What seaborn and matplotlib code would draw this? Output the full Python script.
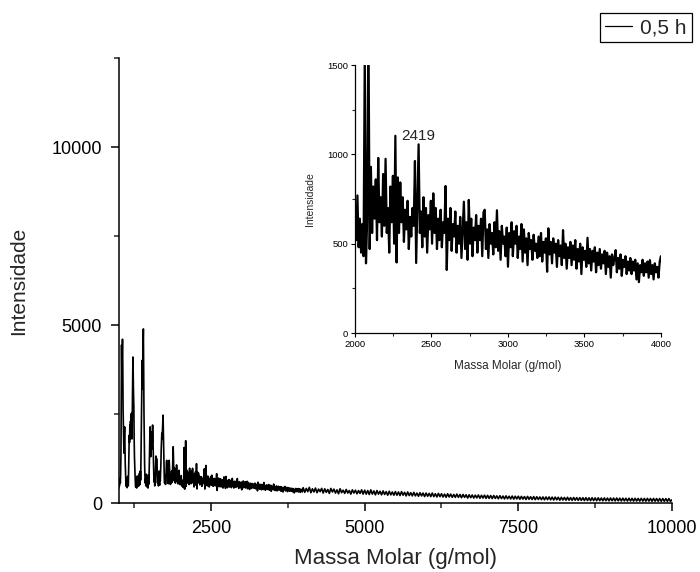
import numpy as np
import pandas as pd
import matplotlib
matplotlib.use("Agg")
import matplotlib.pyplot as plt
import seaborn as sns
from matplotlib.ticker import MultipleLocator

# ---------------- data ----------------
series_label = "0,5 h"
annot_text = "2419"
xlabel = "Massa Molar (g/mol)"
ylabel = "Intensidade"

# m/z sampling grids of the three spectrum segments
mass_a = np.arange(1000, 2000, 5)      # 1000-1995
mass_b = np.arange(2000, 4000, 8)      # 2000-3992
mass_c = np.arange(4000, 10001, 25)    # 4000-10000

int_a = [
    420, 610, 480, 650, 700, 560, 820, 1350, 2900, 4440, 3600, 4100, 4600, 3900, 2600, 2100, 1700, 1400, 1900, 2140,
    1600, 1100, 820, 600, 470, 690, 520, 430, 640, 750, 560, 480, 900, 1500, 1900, 1700, 2190, 1800, 2300, 2100,
    2400, 2520, 2200, 1800, 2600, 3400, 4100, 3500, 3030, 2700, 1800, 1300, 1000, 760, 560, 450, 680, 500, 420, 620,
    760, 540, 470, 700, 610, 480, 560, 830, 690, 520, 900, 640, 1100, 1800, 2600, 3300, 4010, 3200, 3700, 4500,
    4890, 3600, 2500, 1700, 1100, 760, 560, 690, 480, 620, 810, 560, 450, 700, 590, 420, 640, 780, 530, 900,
    1400, 1900, 2140, 1600, 1300, 1750, 1500, 1900, 2000, 1700, 2190, 1800, 1400, 1000, 760, 590, 680, 480, 610, 750,
    1100, 1320, 900, 1250, 1000, 700, 560, 820, 640, 480, 720, 900, 580, 500, 760, 620, 840, 1100, 1500, 1700,
    1960, 1800, 2000, 2200, 2470, 2000, 1500, 1100, 700, 560, 650, 780, 520, 600, 870, 1150, 1200, 900, 1100, 760,
    620, 540, 880, 700, 1200, 1000, 740, 600, 520, 800, 660, 560, 900, 720, 590, 1000, 1300, 1580, 1200, 900,
    760, 620, 980, 800, 560, 700, 860, 640, 1070, 820, 600, 750, 540, 880, 700, 600, 920, 760, 520, 690,
]

int_b = [
    690, 520, 770, 480, 640, 450, 610, 430, 1560, 390, 640, 1750, 470, 930, 560, 820, 640, 860, 520, 980, 620, 760, 540, 890, 600,
    975, 560, 700, 450, 820, 620, 880, 500, 1104, 395, 871, 560, 843, 620, 760, 510, 690, 580, 740, 470, 650, 540, 700, 600, 963,
    392, 720, 1056, 560, 680, 480, 760, 540, 700, 450, 660, 580, 740, 500, 782, 560, 700, 470, 640, 520, 690, 480, 620, 560, 823,
    353, 640, 520, 700, 460, 610, 540, 680, 450, 600, 500, 650, 420, 580, 735, 470, 620, 410, 745, 500, 640, 430, 590, 520, 660,
    450, 600, 520, 640, 430, 675, 690, 470, 580, 420, 610, 500, 560, 440, 620, 480, 687, 460, 570, 410, 600, 500, 540, 430, 590,
    371, 560, 480, 620, 430, 570, 500, 600, 420, 540, 470, 610, 400, 580, 450, 530, 380, 560, 470, 520, 410, 550, 460, 500, 420,
    540, 430, 560, 400, 510, 450, 530, 343, 586, 440, 510, 390, 530, 450, 500, 370, 520, 430, 490, 380, 576, 420, 500, 360, 480,
    420, 510, 380, 490, 410, 520, 360, 470, 400, 500, 330, 480, 410, 460, 370, 533, 390, 470, 350, 460, 400, 480, 340, 450, 380,
    470, 360, 440, 390, 460, 330, 450, 370, 430, 310, 440, 380, 420, 464, 340, 420, 360, 440, 320, 410, 370, 430, 330, 400, 350,
    420, 330, 400, 350, 410, 300, 390, 285, 380, 340, 410, 320, 390, 340, 400, 310, 408, 330, 380, 300, 390, 340, 370, 310, 400,
]

int_c = [
    430, 300, 410, 320, 440, 290, 400, 310, 420, 290, 390, 320, 410, 280, 400, 300, 380, 270, 410, 310,
    390, 280, 370, 260, 400, 290, 360, 270, 380, 280, 350, 250, 370, 280, 360, 260, 350, 270, 370, 250,
    360, 250, 350, 240, 370, 250, 340, 230, 350, 250, 330, 230, 340, 240, 320, 220, 330, 230, 310, 220,
    320, 220, 310, 210, 320, 220, 300, 200, 310, 210, 290, 200, 300, 200, 280, 190, 290, 200, 280, 180,
    280, 190, 270, 180, 280, 180, 260, 170, 270, 180, 260, 170, 250, 160, 260, 170, 250, 160, 240, 160,
    250, 160, 240, 150, 240, 160, 230, 140, 230, 150, 225, 140, 220, 145, 225, 135, 215, 140, 220, 130,
    215, 130, 210, 125, 210, 130, 200, 120, 205, 125, 195, 115, 200, 120, 190, 115, 195, 110, 190, 115,
    190, 105, 185, 110, 180, 100, 185, 105, 175, 100, 180, 95, 175, 100, 170, 95, 170, 90, 170, 95,
    170, 90, 165, 85, 165, 90, 160, 80, 160, 85, 155, 80, 160, 80, 150, 75, 155, 80, 150, 75,
    150, 75, 148, 70, 150, 72, 145, 68, 148, 70, 142, 66, 145, 68, 140, 64, 142, 66, 138, 62,
    140, 64, 138, 60, 140, 62, 135, 58, 136, 60, 132, 56, 134, 58, 130, 55, 132, 56, 128, 54,
    130, 54, 128, 52, 130, 54, 126, 50, 128, 52, 124, 50, 126, 48, 124, 50, 122, 48, 124, 46,
    90,
]

df = pd.DataFrame({
    "mass": np.concatenate([mass_a, mass_b, mass_c]),
    "intensity": np.concatenate([int_a, int_b, int_c]),
})

# ---------------- style ----------------
sns.set_style("ticks")
plt.rcParams["font.family"] = ["Liberation Sans", "DejaVu Sans"]
plt.rcParams["axes.linewidth"] = 1.1

fig = plt.figure(figsize=(7, 5.72), dpi=100)

# ---------------- main axes ----------------
ax = fig.add_axes([0.1697, 0.1206, 0.7903, 0.778])
sns.lineplot(data=df, x="mass", y="intensity", ax=ax, color="black",
             linewidth=1.2, sort=False, estimator=None, legend=False)
ax.set_xlim(1000, 10000)
ax.set_ylim(0, 12500)
ax.xaxis.set_major_locator(MultipleLocator(2500))
ax.xaxis.set_minor_locator(MultipleLocator(1250))
ax.yaxis.set_major_locator(MultipleLocator(5000))
ax.yaxis.set_minor_locator(MultipleLocator(2500))
ax.tick_params(which="major", direction="out", length=6, width=1.1,
               labelsize=13, colors="black", pad=6)
ax.tick_params(which="minor", direction="out", length=3.5, width=1.1)
ax.set_xlabel(xlabel, fontsize=16, labelpad=8)
ax.set_ylabel(ylabel, fontsize=15, labelpad=17)
sns.despine(ax=ax)
for s in ("left", "bottom"):
    ax.spines[s].set_color("black")

# ---------------- inset ----------------
ax2 = fig.add_axes([0.5071, 0.4178, 0.4371, 0.4685])
sns.lineplot(data=df, x="mass", y="intensity", ax=ax2, color="black",
             linewidth=1.6, sort=False, estimator=None, legend=False)
ax2.set_xlim(2000, 4000)
ax2.set_ylim(0, 1500)
ax2.xaxis.set_major_locator(MultipleLocator(500))
ax2.xaxis.set_minor_locator(MultipleLocator(250))
ax2.yaxis.set_major_locator(MultipleLocator(500))
ax2.yaxis.set_minor_locator(MultipleLocator(250))
ax2.tick_params(which="major", direction="out", length=3, width=0.8,
                labelsize=6.8, colors="black", pad=2)
ax2.tick_params(which="minor", direction="out", length=2, width=0.8)
ax2.set_xlabel(xlabel, fontsize=8.5, labelpad=8)
ax2.set_ylabel(ylabel, fontsize=7.5, labelpad=9)
sns.despine(ax=ax2)
for s in ("left", "bottom"):
    ax2.spines[s].set_linewidth(0.9)
    ax2.spines[s].set_color("black")
ax2.patch.set_alpha(0)
ax2.text(2300, 1100, annot_text, fontsize=11, va="center", ha="left")

# ---------------- legend ----------------
leg = fig.legend([ax.lines[0]], [series_label], loc="upper right",
                 bbox_to_anchor=(692 / 700, 1 - 13 / 572), borderaxespad=0,
                 frameon=True, fancybox=False, edgecolor="black", framealpha=1,
                 fontsize=15, handlelength=1.3, handletextpad=0.4,
                 borderpad=0.25)
leg.get_frame().set_linewidth(0.9)
leg.get_lines()[0].set_linewidth(0.9)

fig.savefig("out.png", dpi=100)
